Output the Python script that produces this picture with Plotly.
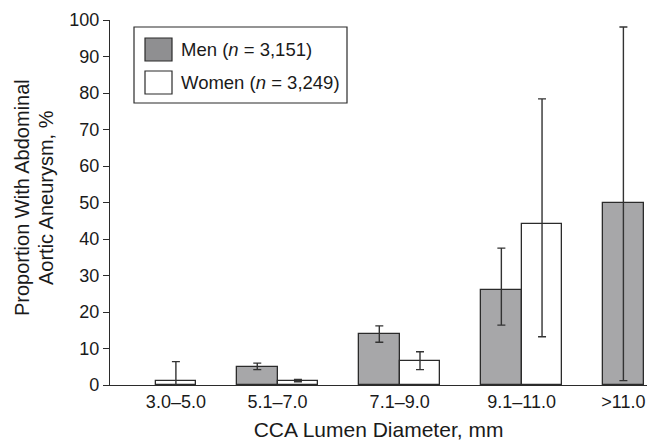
import plotly.graph_objects as go

categories = ["3.0–5.0", "5.1–7.0", "7.1–9.0", "9.1–11.0", ">11.0"]
men = [None, 4.9, 14.0, 25.9, 50.0]
men_hi = [None, 6.0, 16.2, 37.5, 98.1]
men_lo = [None, 4.2, 11.7, 16.4, 1.2]
women = [1.2, 1.2, 6.5, 44.0, None]
women_hi = [6.4, 1.5, 9.1, 78.4, None]
women_lo = [0.0, 0.9, 4.2, 13.2, None]
y_ticks = list(range(0, 101, 10))

MEN_COLOR = "#a7a7a9"
MEN_SWATCH = "#8f8f91"
WOMEN_COLOR = "#ffffff"
EDGE = "#2b2b2b"
FONT = "Arial, Liberation Sans, sans-serif"

W, H = 649, 441
ML, MR, MT, MB = 110, 2, 20, 56
PW, PH = W - ML - MR, H - MT - MB

def px(x):
    return (x - ML) / PW

def py(y):
    return (H - MB - y) / PH

# bar slot positions: bars adjacent within a group, one-slot gap between groups
men_x, women_x, tick_x = [], [], []
pos = 0.0
for i in range(len(categories)):
    centers = []
    if men[i] is not None:
        men_x.append(pos + 0.5); centers.append(pos + 0.5); pos += 1
    else:
        men_x.append(None)
    if women[i] is not None:
        women_x.append(pos + 0.5); centers.append(pos + 0.5); pos += 1
    else:
        women_x.append(None)
    tick_x.append(sum(centers) / len(centers))
    pos += 1

def pick(xs, ys, hi, lo):
    X, Y, P, M = [], [], [], []
    for x, y, h, l in zip(xs, ys, hi, lo):
        if y is None:
            continue
        X.append(x); Y.append(y); P.append(h - y); M.append(y - l)
    return X, Y, P, M

fig = go.Figure()
for name, xs, ys, hi, lo, col in [
    ("Men", men_x, men, men_hi, men_lo, MEN_COLOR),
    ("Women", women_x, women, women_hi, women_lo, WOMEN_COLOR),
]:
    X, Y, P, M = pick(xs, ys, hi, lo)
    fig.add_trace(go.Bar(
        x=X, y=Y, width=1.0, name=name, showlegend=False,
        marker=dict(color=col, line=dict(color=EDGE, width=1.3)),
        error_y=dict(type="data", array=P, arrayminus=M, symmetric=False,
                     color="#333333", thickness=1.4, width=4),
    ))

# manual legend
fig.add_shape(type="rect", xref="paper", yref="paper",
              x0=px(134), x1=px(347), y0=py(103), y1=py(27),
              line=dict(color=EDGE, width=1.2), fillcolor="white")
for k, (lab, col) in enumerate([("Men (<i>n</i> = 3,151)", MEN_SWATCH),
                                 ("Women (<i>n</i> = 3,249)", WOMEN_COLOR)]):
    top = 38 + k * 33
    fig.add_shape(type="rect", xref="paper", yref="paper",
                  x0=px(145), x1=px(172), y0=py(top + 23), y1=py(top),
                  line=dict(color=EDGE, width=1.2), fillcolor=col)
    fig.add_annotation(xref="paper", yref="paper", x=px(179),
                       y=py(top + 11.5), xanchor="left", yanchor="middle",
                       text=lab, showarrow=False,
                       font=dict(family=FONT, size=18.5, color="#1a1a1a"))

# y-axis title lines
for txt, cx in [("Proportion With Abdominal", 22.5), ("Aortic Aneurysm, %", 46.5)]:
    fig.add_annotation(xref="paper", yref="paper", x=px(cx), y=py(197.5),
                       xanchor="center", yanchor="middle", textangle=-90,
                       text=txt, showarrow=False,
                       font=dict(family=FONT, size=20, color="#1a1a1a"))

fig.update_layout(
    width=W, height=H,
    margin=dict(l=ML, r=MR, t=MT, b=MB),
    plot_bgcolor="white", paper_bgcolor="white",
    font=dict(family=FONT, size=18, color="#1a1a1a"),
    bargap=0,
)
fig.update_xaxes(
    range=[-1.12, 12.08], tickmode="array", tickvals=tick_x, ticktext=categories,
    showline=True, linecolor=EDGE, linewidth=1.3, ticks="", showgrid=False,
    zeroline=False, tickfont=dict(size=18),
    title=dict(text="CCA Lumen Diameter, mm", font=dict(size=21), standoff=12),
)
fig.update_yaxes(
    range=[0, 100], tickvals=y_ticks, showline=True, linecolor=EDGE, linewidth=1.3,
    ticks="outside", ticklen=6, tickcolor=EDGE, showgrid=False, zeroline=False,
    tickfont=dict(size=18),
)
fig.write_html("out.html", config={"displayModeBar": False},
               post_script="document.body.style.margin='0';document.body.style.overflow='hidden';")
